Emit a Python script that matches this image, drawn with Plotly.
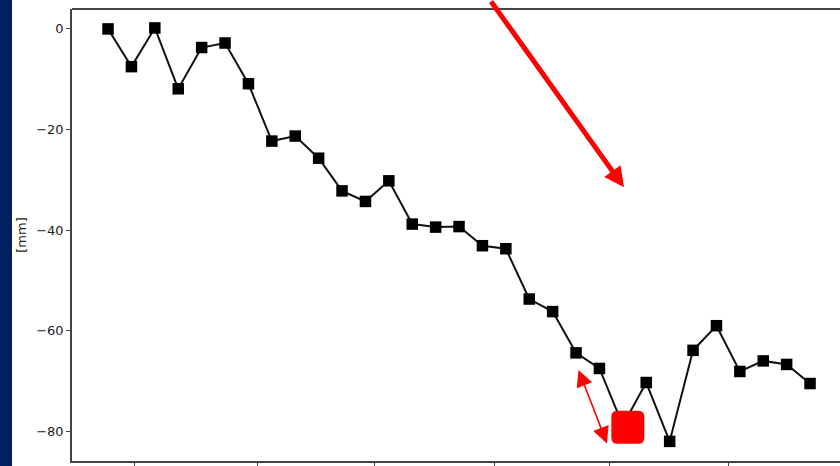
import plotly.graph_objects as go

# Settlement record: one reading per survey, in mm
survey_index = list(range(31))
settlement_mm = [0.0, -7.5, 0.2, -11.9, -3.7, -2.8, -10.9, -22.3, -21.3, -25.7,
                 -32.2, -34.3, -30.2, -38.8, -39.4, -39.3, -43.1, -43.7, -53.7, -56.2,
                 -64.4, -67.5, -78.8, -70.3, -82.0, -63.9, -59.0, -68.1, -66.0, -66.7,
                 -70.5]
x_tick_positions = [1.15, 6.37, 11.4, 16.5, 21.45, 26.5]
y_tick_values = [0, -20, -40, -60, -80]
highlight_index = 22

W, H = 840, 466
ML, MR, MT, MB = 72, 0, 9, 3

fig = go.Figure()
fig.add_trace(go.Scatter(
    x=survey_index, y=settlement_mm, mode="lines+markers",
    line=dict(color="#111111", width=2),
    marker=dict(symbol="square", size=11.5, color="#000000"),
    hoverinfo="skip", showlegend=False,
))

axis_font = dict(family="DejaVu Sans", size=13, color="#222222")

fig.update_layout(
    width=W, height=H,
    margin=dict(l=ML, r=MR, t=MT, b=MB, pad=0),
    paper_bgcolor="white", plot_bgcolor="white",
    xaxis=dict(range=[-1.54, 31.28], showgrid=False, zeroline=False,
               showline=True, linecolor="#444444", linewidth=1.5,
               ticks="outside", ticklen=5, tickcolor="#444444",
               tickvals=x_tick_positions, ticktext=[""] * len(x_tick_positions)),
    yaxis=dict(range=[-85.9, 3.96], showgrid=False, zeroline=False,
               showline=True, linecolor="#444444", linewidth=1.5,
               ticks="outside", ticklen=4, tickcolor="#444444",
               tickvals=y_tick_values, tickfont=axis_font,
               title=dict(text="[mm]", font=dict(family="DejaVu Sans", size=13, color="#222222"),
                          standoff=7)),
)

# top frame line
fig.add_shape(type="line", xref="paper", yref="paper", x0=0, x1=1, y0=1, y1=1,
              line=dict(color="#444444", width=2))

# navy side strip
plot_w = W - ML - MR
fig.add_shape(type="rect", xref="paper", yref="paper",
              x0=-ML / plot_w, x1=(12 - ML) / plot_w, y0=-0.1, y1=1.1,
              fillcolor="#002060", line=dict(width=0), layer="below")

# rounded red marker on the lowest highlighted reading
r, s, dx, dy = 6, 16.5, 5, -2
path = (f"M {-s + r + dx},{-s + dy} L {s - r + dx},{-s + dy} Q {s + dx},{-s + dy} {s + dx},{-s + r + dy} "
        f"L {s + dx},{s - r + dy} Q {s + dx},{s + dy} {s - r + dx},{s + dy} "
        f"L {-s + r + dx},{s + dy} Q {-s + dx},{s + dy} {-s + dx},{s - r + dy} "
        f"L {-s + dx},{-s + r + dy} Q {-s + dx},{-s + dy} {-s + r + dx},{-s + dy} Z")
fig.add_shape(type="path", xref="x", yref="y", xsizemode="pixel", ysizemode="pixel",
              xanchor=highlight_index, yanchor=settlement_mm[highlight_index],
              path=path, fillcolor="#ff0000", line=dict(width=0))

# large pointer arrow
fig.add_annotation(x=22.05, y=-31.5, xref="x", yref="y", text="",
                   showarrow=True, arrowhead=2, arrowsize=0.8, arrowwidth=5,
                   arrowcolor="#ff0000", ax=-134, ay=-208)

# small double-headed arrow
fig.add_annotation(x=21.32, y=-82.4, xref="x", yref="y", text="",
                   showarrow=True, arrowhead=2, startarrowhead=2, arrowside="end+start",
                   arrowsize=2.2, startarrowsize=2.2, arrowwidth=1.5,
                   arrowcolor="#ff0000", ax=-29, ay=-75)

fig.write_html("out.html")
